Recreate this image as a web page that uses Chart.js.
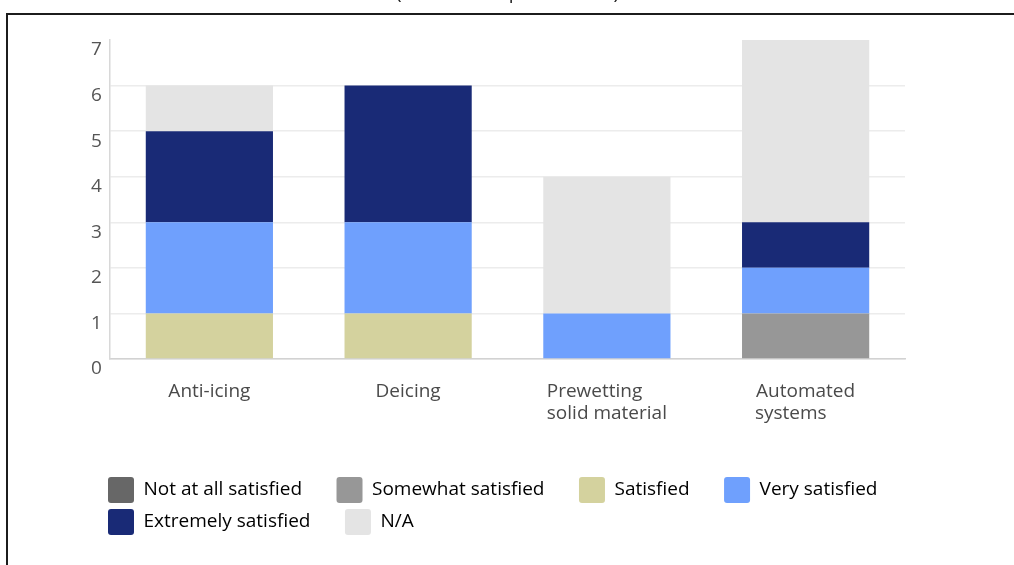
<!DOCTYPE html>
<html>
<head>
<meta charset="utf-8">
<script src="https://cdn.jsdelivr.net/npm/chart.js@4.4.1/dist/chart.umd.min.js"></script>
<style>
  html, body { margin: 0; padding: 0; background: #fff; overflow: hidden; }
  #wrap { position: relative; width: 1014px; height: 565px; overflow: hidden; }
  #chart { position: absolute; left: 0; top: 0; }
  #frame { position: absolute; left: 6px; top: 13px; width: 1100px; height: 700px;
           border-top: 2px solid #1c1c1c; border-left: 2px solid #1c1c1c; pointer-events: none; }
  #caption { position: absolute; left: 396px; top: -18px; font: 19px "Open Sans", sans-serif;
             line-height: 20px; color: #222; white-space: nowrap; filter: grayscale(1); }
</style>
</head>
<body>
<div id="wrap">
  <div id="caption">(Satisfaction per method)</div>
  <canvas id="chart" width="1014" height="565"></canvas>
  <div id="frame"></div>
</div>
<script>
// Categories (multi-line names are split into lines)
const categoryLines = [['Anti-icing'], ['Deicing'], ['Prewetting', 'solid material'], ['Automated', 'systems']];

// Response counts per satisfaction level, one value per category
const notAtAllSatisfied   = [0, 0, 0, 0];
const somewhatSatisfied   = [0, 0, 0, 1];
const satisfied           = [1, 1, 0, 0];
const verySatisfied       = [2, 2, 1, 1];
const extremelySatisfied  = [2, 3, 0, 1];
const notApplicable       = [1, 0, 3, 4];

const seriesLabels = ['Not at all satisfied', 'Somewhat satisfied', 'Satisfied', 'Very satisfied', 'Extremely satisfied', 'N/A'];
const yTickValues = [0, 1, 2, 3, 4, 5, 6, 7];

const FONT = '"Open Sans", sans-serif';
const LABEL_SIZE = 19;

// Pad shorter lines with trailing spaces so a centred block reads left-aligned
function leftAlignBlock(lines) {
  if (lines.length < 2) return lines[0];
  const ctx = document.createElement('canvas').getContext('2d');
  ctx.font = `${LABEL_SIZE}px ${FONT}`;
  const widest = Math.max(...lines.map(l => ctx.measureText(l).width));
  return lines.map(l => {
    let s = l;
    while (Math.abs(ctx.measureText(s + ' ').width - widest) < Math.abs(ctx.measureText(s).width - widest)) s += ' ';
    return s;
  });
}
const categories = categoryLines.map(leftAlignBlock);

const colors = ['#676767', '#979797', '#d4d29e', '#6fa0fd', '#192a76', '#e4e4e4'];
const seriesData = [notAtAllSatisfied, somewhatSatisfied, satisfied, verySatisfied, extremelySatisfied, notApplicable];

const datasets = seriesLabels.map((label, i) => ({
  label,
  data: seriesData[i],
  backgroundColor: colors[i],
  borderWidth: 0,
  barPercentage: 0.64,
  categoryPercentage: 1.0,
  stack: 'responses'
}));

new Chart(document.getElementById('chart'), {
  type: 'bar',
  data: { labels: categories, datasets },
  options: {
    responsive: false,
    animation: false,
    devicePixelRatio: 1,
    layout: { padding: { left: 102, right: 0, top: 40, bottom: 20 } },
    plugins: {
      tooltip: { enabled: false },
      legend: {
        position: 'bottom',
        align: 'start',
        labels: {
          boxWidth: 26,
          boxHeight: 26,
          padding: 6,
          color: '#606060',
          font: { family: FONT, size: LABEL_SIZE },
          generateLabels(chart) {
            return chart.data.datasets.map((ds, i) => ({
              text: ds.label + '\u2003\u2002',
              fillStyle: ds.backgroundColor,
              strokeStyle: ds.backgroundColor,
              lineWidth: 0,
              borderRadius: 3,
              hidden: false,
              datasetIndex: i
            }));
          }
        }
      }
    },
    scales: {
      x: {
        stacked: true,
        grid: { display: false, drawTicks: false },
        border: { display: true, color: '#d2d2d2', width: 1.5 },
        ticks: {
          color: '#4a4a4a',
          padding: 21,
          font: { family: FONT, size: LABEL_SIZE, lineHeight: 1.17 },
          maxRotation: 0,
          autoSkip: false
        },
        afterFit(scale) { scale.height = 112; }
      },
      y: {
        stacked: true,
        min: 0,
        max: 7,
        afterBuildTicks(scale) { scale.ticks = yTickValues.map(v => ({ value: v })); },
        grid: {
          drawTicks: false,
          color: ctx => (ctx.tick && ctx.tick.value === 7) ? 'rgba(0,0,0,0)' : '#ececec',
          lineWidth: 1.5
        },
        border: { display: true, color: '#d8d8d8', width: 1.5 },
        ticks: {
          color: '#555555',
          // labels sit left of the narrow axis box, right-aligned
          mirror: true,
          crossAlign: 'far',
          padding: -19,
          labelOffset: 10,
          font: { family: FONT, size: LABEL_SIZE }
        },
        afterFit(scale) { scale.width = 8; }
      },
      right: {
        position: 'right',
        display: true,
        grid: { display: false, drawTicks: false },
        border: { display: false },
        ticks: { display: false },
        afterFit(scale) { scale.width = 109; }
      }
    }
  }
});
</script>
</body>
</html>
